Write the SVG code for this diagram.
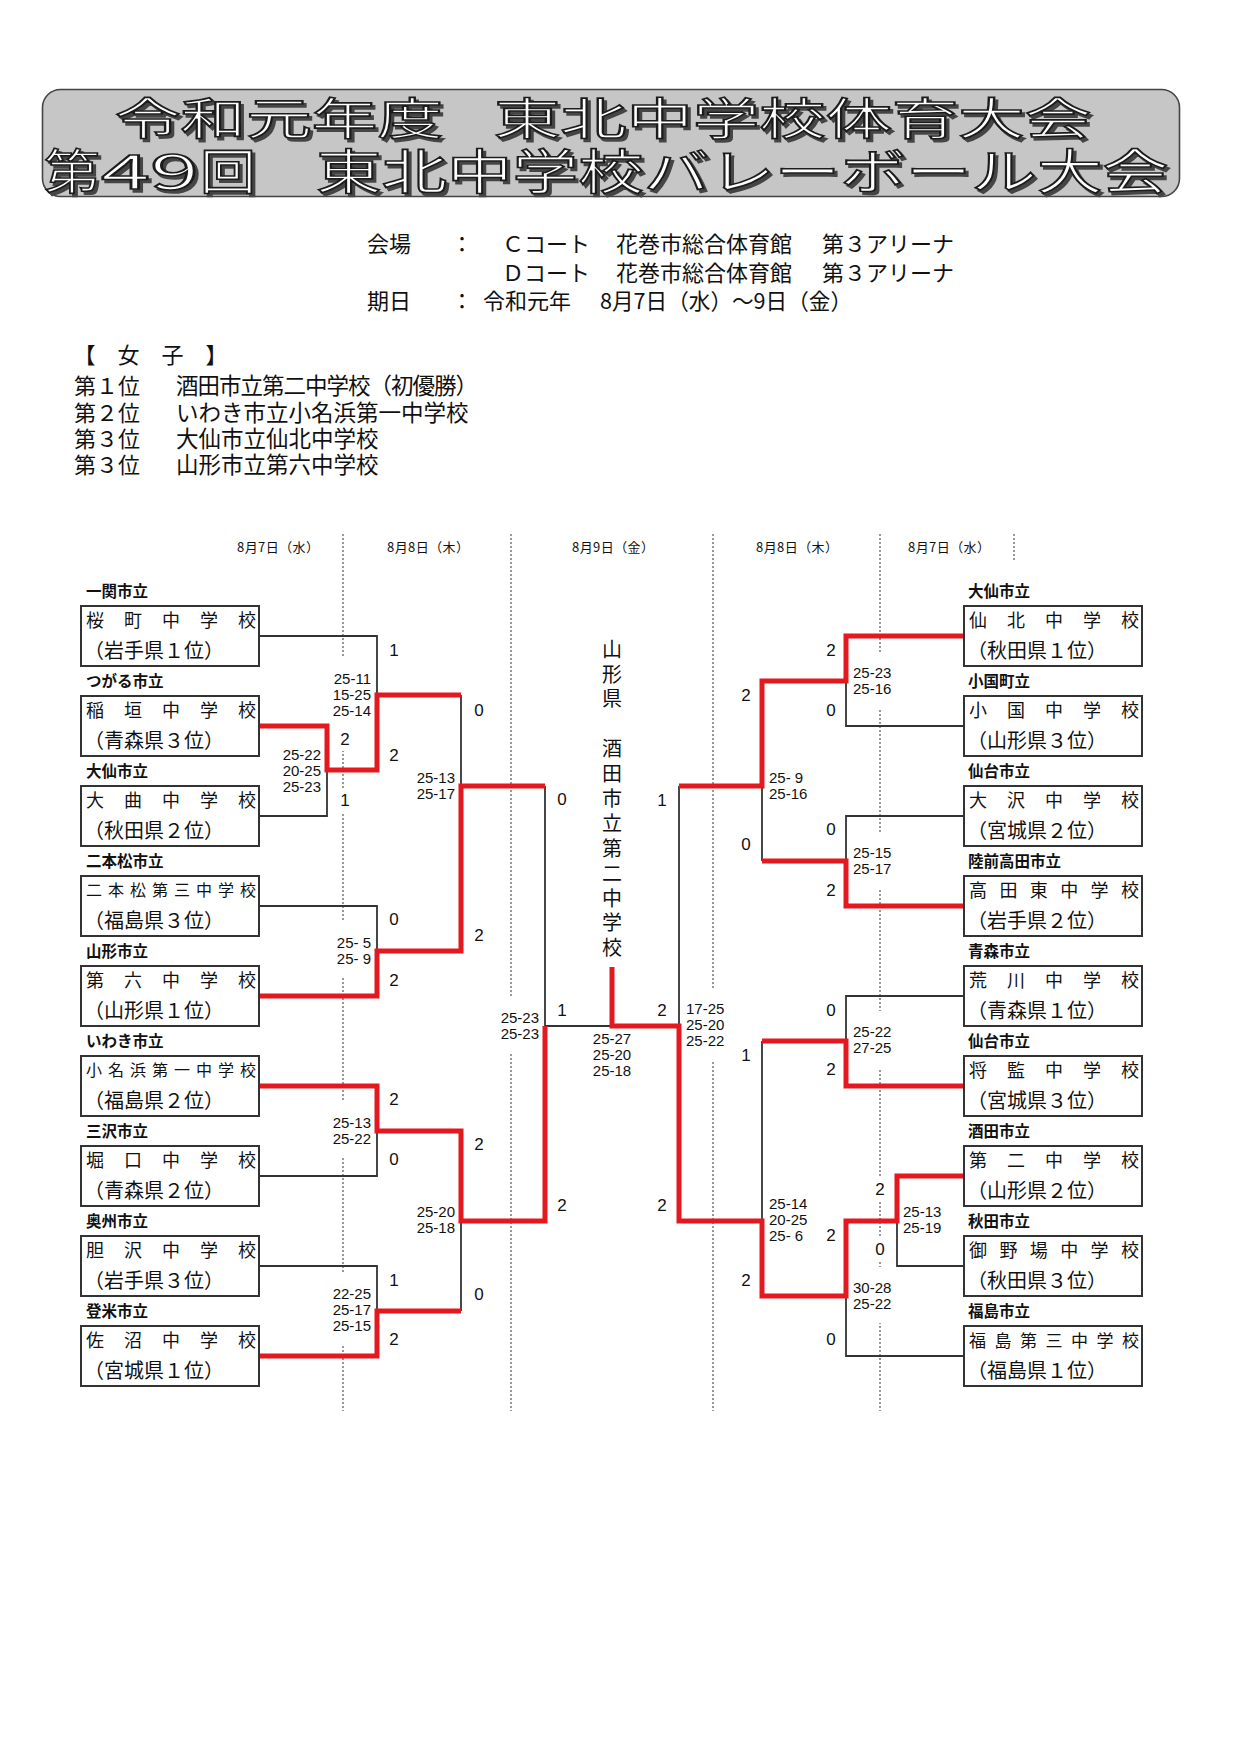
<svg xmlns="http://www.w3.org/2000/svg" width="1240" height="1754" viewBox="0 0 1240 1754">
<defs>
<filter id="shadow" x="-5%" y="-20%" width="110%" height="150%">
<feDropShadow dx="3" dy="3" stdDeviation="0.4" flood-color="#444" flood-opacity="1"/>
</filter>
<style>
text{font-family:"Noto Sans CJK JP","Noto Sans CJK SC",sans-serif;fill:#111;}
.num{font-family:"Liberation Sans",Arial,sans-serif;}
.ttl{font-weight:400;fill:#fff;stroke:#1a1a1a;stroke-width:1.6px;filter:url(#shadow);}
.info{font-size:22px}
.rank{font-size:22px}
.rn{font-size:22.5px}
.date{font-size:13px}
.city{font-size:15.5px;font-weight:700}
.n18{font-size:18px}
.n17{font-size:17px}
.n16{font-size:16px}
.sub{font-size:20px}
.sc{font-size:17px;text-anchor:middle}
.set{font-size:15px}
.box{fill:#fff;stroke:#333;stroke-width:2}
.ln{fill:none;stroke:#333;stroke-width:1.8}
.win{fill:none;stroke:#e3191f;stroke-width:5;stroke-linejoin:miter}
.dot{fill:none;stroke:#555;stroke-width:1.2;stroke-dasharray:2 2}
.bg{fill:#fff}
.champ{font-size:20px;text-anchor:middle}
</style>
</defs>
<rect width="1240" height="1754" fill="#fff"/>

<g id="title">
<rect x="42.5" y="89.5" width="1137" height="107" rx="18" fill="#c6c6c6" stroke="#444" stroke-width="1.6"/>
<text class="ttl" x="115" y="135" font-size="44" textLength="328" lengthAdjust="spacingAndGlyphs">令和元年度</text>
<text class="ttl" x="494" y="135" font-size="44" textLength="597" lengthAdjust="spacingAndGlyphs">東北中学校体育大会</text>
<text class="ttl" x="44" y="188.5" font-size="48" textLength="56" lengthAdjust="spacingAndGlyphs">第</text>
<text class="ttl" x="101" y="188.5" font-size="48" textLength="98" lengthAdjust="spacingAndGlyphs">49</text>
<text class="ttl" x="200" y="188.5" font-size="48" textLength="56" lengthAdjust="spacingAndGlyphs">回</text>
<text class="ttl" x="316" y="188.5" font-size="48" textLength="852" lengthAdjust="spacingAndGlyphs">東北中学校バレーボール大会</text>
</g>

<g id="info">
<text class="info" x="367" y="252">会場</text>
<text class="info" x="451" y="252">：</text>
<text class="info" x="502" y="252">Ｃコート</text>
<text class="info" x="616" y="252">花巻市総合体育館</text>
<text class="info" x="822" y="252">第３アリーナ</text>
<text class="info" x="502" y="280.5">Ｄコート</text>
<text class="info" x="616" y="280.5">花巻市総合体育館</text>
<text class="info" x="822" y="280.5">第３アリーナ</text>
<text class="info" x="367" y="309">期日</text>
<text class="info" x="451" y="309">：</text>
<text class="info" x="483" y="309">令和元年</text>
<text class="info" x="600" y="309" textLength="252" lengthAdjust="spacingAndGlyphs">8月7日（水）～9日（金）</text>
</g>

<g id="results">
<text class="rank" x="73.5" y="363" font-size="21">【　女　子　】</text>
<text class="rank" x="74" y="394">第１位</text>
<text class="rn" x="176" y="394" textLength="302" lengthAdjust="spacing">酒田市立第二中学校（初優勝）</text>
<text class="rank" x="74" y="420.5">第２位</text>
<text class="rn" x="176" y="420.5">いわき市立小名浜第一中学校</text>
<text class="rank" x="74" y="447">第３位</text>
<text class="rn" x="176" y="447">大仙市立仙北中学校</text>
<text class="rank" x="74" y="472.5">第３位</text>
<text class="rn" x="176" y="472.5">山形市立第六中学校</text>
</g>

<g id="dates">
<text class="date" x="237" y="552" textLength="82" lengthAdjust="spacing">8月7日（水）</text>
<text class="date" x="387" y="552" textLength="82" lengthAdjust="spacing">8月8日（木）</text>
<text class="date" x="572" y="552" textLength="82" lengthAdjust="spacing">8月9日（金）</text>
<text class="date" x="756" y="552" textLength="82" lengthAdjust="spacing">8月8日（木）</text>
<text class="date" x="908" y="552" textLength="82" lengthAdjust="spacing">8月7日（水）</text>
<line class="dot" x1="343" y1="534" x2="343" y2="1411"/>
<line class="dot" x1="511" y1="534" x2="511" y2="1411"/>
<line class="dot" x1="713" y1="534" x2="713" y2="1411"/>
<line class="dot" x1="880" y1="534" x2="880" y2="1411"/>
<line class="dot" x1="1014" y1="534" x2="1014" y2="562"/>
</g>

<g id="score-bg">
<rect class="bg" x="280" y="734" width="44" height="72"/>
<rect class="bg" x="330" y="658" width="44" height="72"/>
<rect class="bg" x="330" y="922" width="44" height="56"/>
<rect class="bg" x="414" y="757" width="44" height="56"/>
<rect class="bg" x="330" y="1102" width="44" height="56"/>
<rect class="bg" x="330" y="1273" width="44" height="73"/>
<rect class="bg" x="414" y="1191" width="44" height="57"/>
<rect class="bg" x="498" y="997" width="44" height="56"/>
<rect class="bg" x="590" y="1018" width="44" height="73"/>
<rect class="bg" x="850" y="652" width="44" height="56"/>
<rect class="bg" x="850" y="832" width="44" height="56"/>
<rect class="bg" x="766" y="757" width="44" height="56"/>
<rect class="bg" x="850" y="1011" width="44" height="57"/>
<rect class="bg" x="900" y="1191" width="44" height="57"/>
<rect class="bg" x="850" y="1267" width="44" height="56"/>
<rect class="bg" x="766" y="1183" width="44" height="73"/>
<rect class="bg" x="683" y="988" width="44" height="73"/>
<rect class="bg" x="337" y="727" width="16" height="24"/>
<rect class="bg" x="337" y="788" width="16" height="24"/>
<rect class="bg" x="872" y="1177" width="16" height="24"/>
<rect class="bg" x="872" y="1237" width="16" height="24"/>
</g>

<g id="set-scores">
<text class="num set" text-anchor="end"><tspan x="321" y="759.5">25-22</tspan><tspan x="321" y="775.8">20-25</tspan><tspan x="321" y="792">25-23</tspan></text>
<text class="num set" text-anchor="end"><tspan x="371" y="683.5">25-11</tspan><tspan x="371" y="699.8">15-25</tspan><tspan x="371" y="716">25-14</tspan></text>
<text class="num set" text-anchor="end"><tspan x="371" y="947.5">25- 5</tspan><tspan x="371" y="963.8">25- 9</tspan></text>
<text class="num set" text-anchor="end"><tspan x="455" y="782.5">25-13</tspan><tspan x="455" y="798.8">25-17</tspan></text>
<text class="num set" text-anchor="end"><tspan x="371" y="1127.5">25-13</tspan><tspan x="371" y="1143.8">25-22</tspan></text>
<text class="num set" text-anchor="end"><tspan x="371" y="1298.5">22-25</tspan><tspan x="371" y="1314.8">25-17</tspan><tspan x="371" y="1331">25-15</tspan></text>
<text class="num set" text-anchor="end"><tspan x="455" y="1216.5">25-20</tspan><tspan x="455" y="1232.8">25-18</tspan></text>
<text class="num set" text-anchor="end"><tspan x="539" y="1022.5">25-23</tspan><tspan x="539" y="1038.8">25-23</tspan></text>
<text class="num set" text-anchor="middle"><tspan x="612" y="1043.5">25-27</tspan><tspan x="612" y="1059.8">25-20</tspan><tspan x="612" y="1076">25-18</tspan></text>
<text class="num set"><tspan x="853" y="677.5">25-23</tspan><tspan x="853" y="693.8">25-16</tspan></text>
<text class="num set"><tspan x="853" y="857.5">25-15</tspan><tspan x="853" y="873.8">25-17</tspan></text>
<text class="num set"><tspan x="769" y="782.5">25- 9</tspan><tspan x="769" y="798.8">25-16</tspan></text>
<text class="num set"><tspan x="853" y="1036.5">25-22</tspan><tspan x="853" y="1052.8">27-25</tspan></text>
<text class="num set"><tspan x="903" y="1216.5">25-13</tspan><tspan x="903" y="1232.8">25-19</tspan></text>
<text class="num set"><tspan x="853" y="1292.5">30-28</tspan><tspan x="853" y="1308.8">25-22</tspan></text>
<text class="num set"><tspan x="769" y="1208.5">25-14</tspan><tspan x="769" y="1224.8">20-25</tspan><tspan x="769" y="1241">25- 6</tspan></text>
<text class="num set"><tspan x="686" y="1013.5">17-25</tspan><tspan x="686" y="1029.8">25-20</tspan><tspan x="686" y="1046">25-22</tspan></text>
</g>

<g id="match-scores">
<text class="num sc" x="345" y="745">2</text>
<text class="num sc" x="345" y="806">1</text>
<text class="num sc" x="394" y="656">1</text>
<text class="num sc" x="394" y="761">2</text>
<text class="num sc" x="394" y="925">0</text>
<text class="num sc" x="394" y="986">2</text>
<text class="num sc" x="479" y="716">0</text>
<text class="num sc" x="479" y="941">2</text>
<text class="num sc" x="394" y="1105">2</text>
<text class="num sc" x="394" y="1165">0</text>
<text class="num sc" x="394" y="1286">1</text>
<text class="num sc" x="394" y="1345">2</text>
<text class="num sc" x="479" y="1150">2</text>
<text class="num sc" x="479" y="1300">0</text>
<text class="num sc" x="562" y="805">0</text>
<text class="num sc" x="562" y="1211">2</text>
<text class="num sc" x="562" y="1016">1</text>
<text class="num sc" x="662" y="1016">2</text>
<text class="num sc" x="831" y="656">2</text>
<text class="num sc" x="831" y="716">0</text>
<text class="num sc" x="831" y="835">0</text>
<text class="num sc" x="831" y="896">2</text>
<text class="num sc" x="746" y="701">2</text>
<text class="num sc" x="746" y="850">0</text>
<text class="num sc" x="831" y="1016">0</text>
<text class="num sc" x="831" y="1075">2</text>
<text class="num sc" x="880" y="1195">2</text>
<text class="num sc" x="880" y="1255">0</text>
<text class="num sc" x="831" y="1241">2</text>
<text class="num sc" x="831" y="1345">0</text>
<text class="num sc" x="746" y="1061">1</text>
<text class="num sc" x="746" y="1286">2</text>
<text class="num sc" x="662" y="806">1</text>
<text class="num sc" x="662" y="1211">2</text>
</g>

<g id="connectors">
<path class="ln" d="M260,636H377V695"/>
<path class="ln" d="M260,816H327V770"/>
<path class="ln" d="M260,906H377V951"/>
<path class="ln" d="M260,1176H377V1131"/>
<path class="ln" d="M260,1266H377V1311"/>
<path class="ln" d="M461,695V786"/>
<path class="ln" d="M461,1221V1311"/>
<path class="ln" d="M545,786V1026"/>
<path class="ln" d="M545,1026H612"/>
<path class="ln" d="M964,726H846V681"/>
<path class="ln" d="M964,816H846V861"/>
<path class="ln" d="M964,996H846V1041"/>
<path class="ln" d="M964,1266H897V1221"/>
<path class="ln" d="M964,1356H846V1296"/>
<path class="ln" d="M762,786V861"/>
<path class="ln" d="M762,1041V1221"/>
<path class="ln" d="M679,786V1026"/>
<path class="win" d="M260,726H327V770H377V695H461"/>
<path class="win" d="M260,996H377V951H461V786H545"/>
<path class="win" d="M260,1086H377V1131H461V1221H545V1026"/>
<path class="win" d="M260,1356H377V1311H461"/>
<path class="win" d="M964,636H846V681H762V786H679"/>
<path class="win" d="M964,906H846V861H762"/>
<path class="win" d="M964,1086H846V1041H762"/>
<path class="win" d="M964,1176H897V1221H846V1296H762V1221H679V1026H612V967"/>
</g>

<g id="champion">
<text class="champ" x="612 612 612 612 612 612 612 612 612 612 612 612" y="657 682 706 756 781 806 831 856 881 906 930 955">山形県酒田市立第二中学校</text>
</g>

<g id="team-L1"><text class="city" x="86" y="596.5">一関市立</text><rect class="box" x="81" y="606" width="178" height="60"/><text class="n18" x="86 124 162 200 238" y="627">桜町中学校</text><text class="sub" x="84" y="658">（岩手県１位）</text></g>
<g id="team-L2"><text class="city" x="86" y="686.5">つがる市立</text><rect class="box" x="81" y="696" width="178" height="60"/><text class="n18" x="86 124 162 200 238" y="717">稲垣中学校</text><text class="sub" x="84" y="748">（青森県３位）</text></g>
<g id="team-L3"><text class="city" x="86" y="776.5">大仙市立</text><rect class="box" x="81" y="786" width="178" height="60"/><text class="n18" x="86 124 162 200 238" y="807">大曲中学校</text><text class="sub" x="84" y="838">（秋田県２位）</text></g>
<g id="team-L4"><text class="city" x="86" y="866.5">二本松市立</text><rect class="box" x="81" y="876" width="178" height="60"/><text class="n16" x="86 108 130 152 174 196 218 240" y="896">二本松第三中学校</text><text class="sub" x="84" y="928">（福島県３位）</text></g>
<g id="team-L5"><text class="city" x="86" y="956.5">山形市立</text><rect class="box" x="81" y="966" width="178" height="60"/><text class="n18" x="86 124 162 200 238" y="987">第六中学校</text><text class="sub" x="84" y="1018">（山形県１位）</text></g>
<g id="team-L6"><text class="city" x="86" y="1046.5">いわき市立</text><rect class="box" x="81" y="1056" width="178" height="60"/><text class="n16" x="86 108 130 152 174 196 218 240" y="1076">小名浜第一中学校</text><text class="sub" x="84" y="1108">（福島県２位）</text></g>
<g id="team-L7"><text class="city" x="86" y="1136.5">三沢市立</text><rect class="box" x="81" y="1146" width="178" height="60"/><text class="n18" x="86 124 162 200 238" y="1167">堀口中学校</text><text class="sub" x="84" y="1198">（青森県２位）</text></g>
<g id="team-L8"><text class="city" x="86" y="1226.5">奥州市立</text><rect class="box" x="81" y="1236" width="178" height="60"/><text class="n18" x="86 124 162 200 238" y="1257">胆沢中学校</text><text class="sub" x="84" y="1288">（岩手県３位）</text></g>
<g id="team-L9"><text class="city" x="86" y="1316.5">登米市立</text><rect class="box" x="81" y="1326" width="178" height="60"/><text class="n18" x="86 124 162 200 238" y="1347">佐沼中学校</text><text class="sub" x="84" y="1378">（宮城県１位）</text></g>

<g id="team-R1"><text class="city" x="968" y="596.5">大仙市立</text><rect class="box" x="964" y="606" width="178" height="60"/><text class="n18" x="969 1007 1045 1083 1121" y="627">仙北中学校</text><text class="sub" x="967" y="658">（秋田県１位）</text></g>
<g id="team-R2"><text class="city" x="968" y="686.5">小国町立</text><rect class="box" x="964" y="696" width="178" height="60"/><text class="n18" x="969 1007 1045 1083 1121" y="717">小国中学校</text><text class="sub" x="967" y="748">（山形県３位）</text></g>
<g id="team-R3"><text class="city" x="968" y="776.5">仙台市立</text><rect class="box" x="964" y="786" width="178" height="60"/><text class="n18" x="969 1007 1045 1083 1121" y="807">大沢中学校</text><text class="sub" x="967" y="838">（宮城県２位）</text></g>
<g id="team-R4"><text class="city" x="968" y="866.5">陸前高田市立</text><rect class="box" x="964" y="876" width="178" height="60"/><text class="n18" x="969 999.4 1029.8 1060.2 1090.6 1121" y="897">高田東中学校</text><text class="sub" x="967" y="928">（岩手県２位）</text></g>
<g id="team-R5"><text class="city" x="968" y="956.5">青森市立</text><rect class="box" x="964" y="966" width="178" height="60"/><text class="n18" x="969 1007 1045 1083 1121" y="987">荒川中学校</text><text class="sub" x="967" y="1018">（青森県１位）</text></g>
<g id="team-R6"><text class="city" x="968" y="1046.5">仙台市立</text><rect class="box" x="964" y="1056" width="178" height="60"/><text class="n18" x="969 1007 1045 1083 1121" y="1077">将監中学校</text><text class="sub" x="967" y="1108">（宮城県３位）</text></g>
<g id="team-R7"><text class="city" x="968" y="1136.5">酒田市立</text><rect class="box" x="964" y="1146" width="178" height="60"/><text class="n18" x="969 1007 1045 1083 1121" y="1167">第二中学校</text><text class="sub" x="967" y="1198">（山形県２位）</text></g>
<g id="team-R8"><text class="city" x="968" y="1226.5">秋田市立</text><rect class="box" x="964" y="1236" width="178" height="60"/><text class="n18" x="969 999.4 1029.8 1060.2 1090.6 1121" y="1257">御野場中学校</text><text class="sub" x="967" y="1288">（秋田県３位）</text></g>
<g id="team-R9"><text class="city" x="968" y="1316.5">福島市立</text><rect class="box" x="964" y="1326" width="178" height="60"/><text class="n17" x="969 994.5 1020 1045.5 1071 1096.5 1122" y="1346.5">福島第三中学校</text><text class="sub" x="967" y="1378">（福島県１位）</text></g>
</svg>
